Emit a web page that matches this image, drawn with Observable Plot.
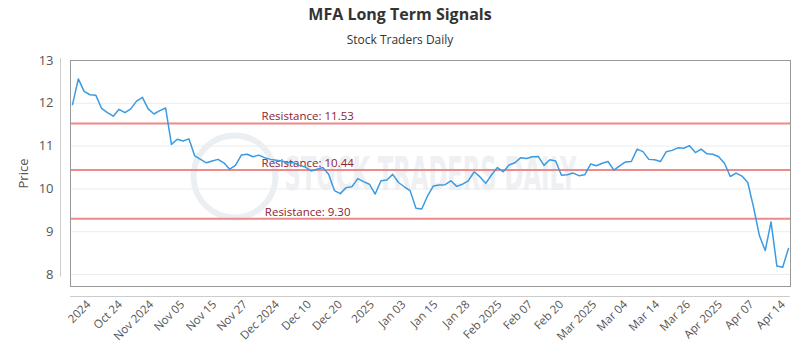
<!DOCTYPE html>
<html>
<head>
<meta charset="utf-8">
<script src="https://cdn.jsdelivr.net/npm/d3@7"></script>
<script src="https://cdn.jsdelivr.net/npm/@observablehq/plot@0.6"></script>
<style>
  body { margin: 0; background: #fff; font-family: "Open Sans", sans-serif; }
  #wrap { width: 800px; height: 350px; position: relative; overflow: hidden; }
  #title { position: absolute; top: 3px; left: 0; width: 800px; text-align: center; font-size: 16px; font-weight: bold; color: #333; }
  #sub { position: absolute; top: 31px; left: 0; width: 800px; text-align: center; font-size: 12px; color: #333; }
  #chart { position: absolute; top: 50px; left: 0; }
</style>
</head>
<body>
<div id="wrap">
  <div id="title">MFA Long Term Signals</div>
  <div id="sub">Stock Traders Daily</div>
  <div id="chart"></div>
</div>
<script>
// Closing prices (one per trading day, in order)
const prices = [
  11.97, 12.57, 12.28, 12.20, 12.19, 11.88, 11.78, 11.70, 11.86, 11.78,
  11.87, 12.05, 12.14, 11.87, 11.75, 11.83, 11.89, 11.04, 11.16, 11.12,
  11.17, 10.77, 10.69, 10.61, 10.65, 10.69, 10.61, 10.46, 10.55, 10.79,
  10.81, 10.75, 10.79, 10.73, 10.69, 10.67, 10.65, 10.61, 10.61, 10.55,
  10.51, 10.42, 10.46, 10.50, 10.34, 9.96, 9.89, 10.03, 10.05, 10.24,
  10.17, 10.11, 9.88, 10.19, 10.21, 10.34, 10.15, 10.05, 9.96, 9.55,
  9.53, 9.84, 10.07, 10.09, 10.10, 10.19, 10.06, 10.11, 10.19, 10.40,
  10.28, 10.13, 10.33, 10.50, 10.40, 10.56, 10.61, 10.73, 10.71, 10.75,
  10.76, 10.55, 10.68, 10.65, 10.32, 10.33, 10.37, 10.31, 10.33, 10.58,
  10.54, 10.60, 10.64, 10.44, 10.54, 10.63, 10.64, 10.93, 10.87, 10.69,
  10.68, 10.64, 10.87, 10.90, 10.96, 10.95, 11.01, 10.85, 10.93, 10.82,
  10.81, 10.75, 10.60, 10.29, 10.37, 10.30, 10.15, 9.57, 8.91, 8.56,
  9.23, 8.20, 8.17, 8.61
];

// Resistance levels
const resistance = [11.53, 10.44, 9.30];
const resistanceLabelAt = 40.4; // position (in trading-day index) of the labels

// X axis tick labels and their positions (trading-day index)
const xTickLabels = ["2024", "Oct 24", "Nov 2024", "Nov 05", "Nov 15", "Nov 27", "Dec 2024", "Dec 10",
  "Dec 20", "2025", "Jan 03", "Jan 15", "Jan 28", "Feb 2025", "Feb 07", "Feb 20", "Mar 2025",
  "Mar 04", "Mar 14", "Mar 26", "Apr 2025", "Apr 07", "Apr 14"];
const xTickPos = [2.8, 8.2, 13.6, 18.9, 24.4, 29.7, 35.2, 40.7, 46.0, 51.5, 56.9, 62.4, 67.9,
  73.4, 78.7, 84.0, 89.7, 95.0, 100.5, 105.8, 111.3, 116.7, 122.1];

// Y ticks
const yTicks = [8, 9, 10, 11, 12, 13];
const yDomain = [7.72, 13];

const data = prices.map((p, i) => ({i, p}));

const chart = Plot.plot({
  width: 800,
  height: 300,
  marginTop: 10,
  marginBottom: 64,
  marginLeft: 70,
  marginRight: 10,
  style: { fontFamily: "Open Sans, sans-serif", fontSize: "12px", color: "#555", background: "transparent" },
  x: { domain: [0, prices.length - 1], insetLeft: 2, insetRight: 2 },
  y: { domain: yDomain },
  marks: [
    // watermark
    Plot.dot([0], { frameAnchor: "middle", dx: -196, dy: 3, r: 41, stroke: "#eceff2", strokeWidth: 6, fill: "none" }),
    Plot.text(["STOCK TRADERS DAILY"], { frameAnchor: "middle", dx: 0, dy: 2, fontSize: 46, fontWeight: "bold", fill: "#eef0f3", fontFamily: "DejaVu Sans Condensed, sans-serif" }),
    Plot.gridY(yTicks, { stroke: "#ececec", strokeOpacity: 1 }),
    Plot.ruleY(resistance, { stroke: "#ee8a8a", strokeWidth: 2 }),
    Plot.text(resistance, {
      x: () => resistanceLabelAt, y: d => d,
      text: d => `Resistance: ${d.toFixed(2)}`,
      fill: "#8b2332", fontSize: 11.5, lineAnchor: "bottom", dy: -3
    }),
    Plot.line(data, { x: "i", y: "p", stroke: "#3a9be3", strokeWidth: 1.5 }),
    Plot.frame({ stroke: "#999" }),
    // separate axis lines
    Plot.ruleX([0], { dx: -12, y1: 13.04, y2: 7.94, stroke: "#ccc" }),
    Plot.ruleY([yDomain[0]], { dy: 10, stroke: "#ccc" }),
    Plot.axisY({
      ticks: yTicks, tickFormat: d => String(d), tickSize: 0, tickPadding: 17, fontSize: 13, fill: "#555",
      label: "Price", labelAnchor: "center", labelArrow: "none", labelOffset: 52
    }),
    Plot.axisX({
      ticks: xTickPos, tickFormat: d => xTickLabels[xTickPos.indexOf(d)],
      tickRotate: -45, tickSize: 0, tickPadding: 16, fontSize: 11.5, fill: "#555", label: null
    })
  ]
});
document.getElementById("chart").appendChild(chart);
// watermark text width
d3.select(chart).selectAll("text").filter(function () { return this.textContent === "STOCK TRADERS DAILY"; })
  .attr("textLength", 292).attr("lengthAdjust", "spacingAndGlyphs");
</script>
</body>
</html>
